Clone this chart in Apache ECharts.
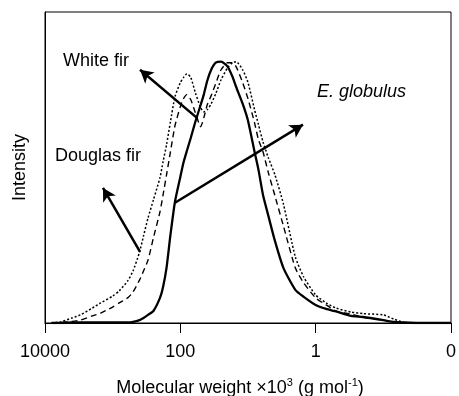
<!DOCTYPE html>
<html>
<head>
<meta charset="utf-8">
<script src="https://cdn.jsdelivr.net/npm/echarts@6/dist/echarts.min.js"></script>
<style>
  html, body { margin: 0; padding: 0; background: #fff; }
  #mw { width: 459px; height: 396px; }
</style>
</head>
<body>
<div id="mw"></div>
<script>
  // molecular weight (x10^3 g/mol) sample points
  const mw = [8000, 6000, 4000, 3000, 2000, 1500, 1000, 800, 600, 500,
    400, 350, 300, 250, 200, 180, 160, 140, 120, 100,
    90, 80, 70, 60, 50, 45, 40, 35, 30, 25,
    20, 17, 15, 12, 10, 8, 7, 6, 5, 4,
    3, 2, 1.5, 1, 0.7, 0.5, 0.3, 0.2, 0.1, 0.07,
    0.05, 0.03, 0.01]

  // normalised intensity
  const eGlobulus = [0, 0, 0.002, 0.002, 0.002, 0.002, 0.002, 0.002, 0.002, 0.004,
    0.011, 0.019, 0.031, 0.046, 0.096, 0.138, 0.211, 0.337, 0.464, 0.559,
    0.613, 0.659, 0.709, 0.770, 0.835, 0.874, 0.927, 0.969, 0.996, 1.0,
    0.981, 0.943, 0.904, 0.839, 0.774, 0.655, 0.586, 0.490, 0.410, 0.314,
    0.211, 0.127, 0.100, 0.069, 0.054, 0.044, 0.027, 0.023, 0.011, 0.004,
    0.002, 0, 0]
  const whiteFir = [0, 0.002, 0.006, 0.011, 0.027, 0.038, 0.061, 0.077, 0.096, 0.119,
    0.165, 0.199, 0.241, 0.326, 0.425, 0.490, 0.567, 0.655, 0.755, 0.828,
    0.858, 0.874, 0.854, 0.805, 0.751, 0.785, 0.835, 0.870, 0.916, 0.969,
    0.996, 0.996, 0.981, 0.920, 0.858, 0.766, 0.701, 0.655, 0.575, 0.487,
    0.372, 0.211, 0.153, 0.096, 0.069, 0.046, 0.034, 0.023, 0.011, 0.004,
    0, 0, 0]
  const douglasFir = [0, 0.004, 0.019, 0.031, 0.057, 0.077, 0.103, 0.123, 0.161, 0.199,
    0.272, 0.333, 0.402, 0.471, 0.556, 0.617, 0.682, 0.770, 0.866, 0.920,
    0.939, 0.954, 0.939, 0.881, 0.824, 0.808, 0.816, 0.839, 0.877, 0.931,
    0.977, 0.996, 1.0, 0.969, 0.920, 0.816, 0.759, 0.693, 0.632, 0.567,
    0.456, 0.253, 0.176, 0.107, 0.077, 0.057, 0.042, 0.036, 0.031, 0.015,
    0.002, 0, 0]

  // annotation arrows: [tail mw, tail intensity, head mw, head intensity]
  const arrows = [
    [56.8, 0.785, 394, 0.969],   // White fir
    [394, 0.272, 1390, 0.517],   // Douglas fir
    [120, 0.460, 1.54, 0.759]    // E. globulus
  ]

  const font = 'Arial, "Liberation Sans", sans-serif'

  function pts(values) {
    return mw.map((m, i) => [Math.log10(m), values[i]])
  }

  let chart = echarts.init(document.getElementById('mw'))
  chart.setOption({
    animation: false,
    textStyle: { fontFamily: font },
    grid: {
      left: 45, right: 8, top: 12, bottom: 73,
      outerBoundsMode: 'none',
      show: true, borderColor: '#000', borderWidth: 1
    },
    xAxis: {
      type: 'value',
      min: -2,
      max: 4,
      interval: 2,
      inverse: true,
      name: 'Molecular weight \u00d710{sup|3} (g mol{sup|-1})',
      nameLocation: 'middle',
      nameGap: 54,
      nameTextStyle: {
        color: '#000', fontSize: 18, fontFamily: font, lineHeight: 22,
        padding: [0, 16, 0, 0],
        rich: { sup: { fontSize: 11, lineHeight: 11, verticalAlign: 'top', fontFamily: font, color: '#000' } }
      },
      axisLine: { onZero: false, lineStyle: { color: '#000', width: 1 } },
      axisTick: { length: 10, lineStyle: { color: '#000' } },
      axisLabel: {
        color: '#000', fontSize: 18, fontFamily: font, margin: 20,
        formatter: v => v === -2 ? '0' : String(Math.pow(10, v))
      },
      splitLine: { show: false }
    },
    yAxis: {
      type: 'value',
      min: 0,
      max: 1.19,
      name: 'Intensity',
      nameLocation: 'middle',
      nameGap: 16,
      nameTextStyle: { color: '#000', fontSize: 18, fontFamily: font },
      axisLine: { show: true, onZero: false, lineStyle: { color: '#000', width: 1 } },
      axisTick: { show: false },
      axisLabel: { show: false },
      splitLine: { show: false }
    },
    graphic: [
      { type: 'text', left: 63, top: 52, style: { text: 'White fir', fontSize: 18, fontFamily: font, fill: '#000' } },
      { type: 'text', left: 55, top: 147, style: { text: 'Douglas fir', fontSize: 18, fontFamily: font, fill: '#000' } },
      { type: 'text', left: 317, top: 83, style: { text: 'E. globulus', fontSize: 18, fontStyle: 'italic', fontFamily: font, fill: '#000' } }
    ],
    series: [
      {
        name: 'Douglas fir',
        type: 'line',
        data: pts(douglasFir),
        symbol: 'none',
        smooth: 0.2,
        lineStyle: { color: '#000', width: 1.5, type: [2, 2] }
      },
      {
        name: 'White fir',
        type: 'line',
        data: pts(whiteFir),
        symbol: 'none',
        smooth: 0.2,
        lineStyle: { color: '#000', width: 1.4, type: [6, 4] }
      },
      {
        name: 'E. globulus',
        type: 'line',
        data: pts(eGlobulus),
        symbol: 'none',
        smooth: 0.2,
        z: 3,
        lineStyle: { color: '#000', width: 2.3 },
        markLine: {
          silent: true,
          animation: false,
          symbol: ['none', 'arrow'],
          symbolSize: [11, 13],
          label: { show: false },
          lineStyle: { color: '#000', width: 2.5, type: 'solid' },
          emphasis: { disabled: true },
          data: arrows.map(a => [
            { coord: [Math.log10(a[0]), a[1]] },
            { coord: [Math.log10(a[2]), a[3]] }
          ])
        }
      }
    ]
  })
</script>
</body>
</html>
